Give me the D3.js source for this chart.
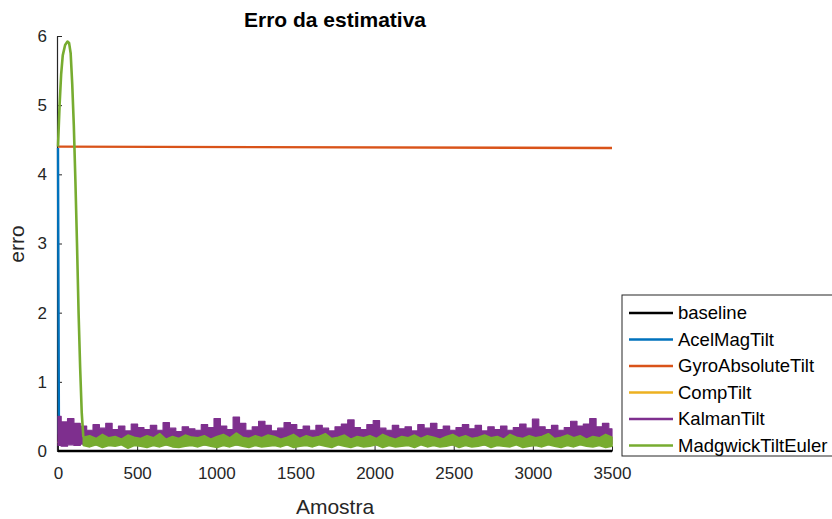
<!DOCTYPE html>
<html>
<head>
<meta charset="utf-8">
<script src="https://cdn.jsdelivr.net/npm/d3@7"></script>
<style>
  body { margin: 0; background: #fff; }
  svg { font-family: "Liberation Sans", Arial, sans-serif; }
</style>
</head>
<body>
<svg id="chart" width="832" height="519"></svg>
<script>
// series names + colours (matlab default order)
const seriesNames = ['baseline', 'AcelMagTilt', 'GyroAbsoluteTilt', 'CompTilt', 'KalmanTilt', 'MadgwickTiltEuler'];
const seriesColors = ['#000000', '#0072BD', '#D95319', '#EDB120', '#7E2F8E', '#77AC30'];

const xTicks = [0, 500, 1000, 1500, 2000, 2500, 3000, 3500];
const yTicks = [0, 1, 2, 3, 4, 5, 6];
const xMax = 3500;

// sample index / value pairs
const baselineX = [0, 3500];
const baselineY = [0, 0];

const acelMagX = [0, 6, 20, 3500];
const acelMagY = [4.38, 0.25, 0.12, 0.12];

const gyroX = [0, 3500];
const gyroY = [4.40, 4.38];

const compX = [0, 10, 3500];
const compY = [0.14, 0.12, 0.12];

// kalman is a dense noisy band: low / high edge, evenly spread over 0..3500
const kalmanHi = [
  0.50,0.42,0.47,0.40,0.36, 0.30,0.38,0.33,0.40,0.31,
  0.36,0.29,0.39,0.34,0.31, 0.37,0.30,0.41,0.33,0.28,
  0.35,0.32,0.30,0.38,0.34, 0.47,0.36,0.31,0.49,0.40,
  0.30,0.35,0.43,0.37,0.29, 0.33,0.41,0.38,0.31,0.36,
  0.30,0.37,0.33,0.29,0.35, 0.39,0.45,0.34,0.31,0.38,
  0.44,0.33,0.30,0.37,0.32, 0.35,0.29,0.38,0.33,0.40,
  0.31,0.36,0.30,0.34,0.38, 0.32,0.37,0.29,0.35,0.31,
  0.36,0.30,0.34,0.39,0.33, 0.46,0.35,0.31,0.37,0.30,
  0.34,0.43,0.36,0.39,0.47, 0.35,0.40,0.32
];
const kalmanLo = [
  0.08,0.07,0.09,0.08,0.10, 0.11,0.09,0.12,0.10,0.08,
  0.10,0.12,0.09,0.11,0.08, 0.10,0.12,0.09,0.11,0.10,
  0.08,0.11,0.10,0.09,0.12, 0.10,0.08,0.11,0.09,0.12,
  0.10,0.09,0.11,0.08,0.10, 0.12,0.09,0.10,0.11,0.08,
  0.10,0.12,0.09,0.11,0.10, 0.08,0.11,0.09,0.12,0.10,
  0.09,0.11,0.10,0.08,0.12, 0.10,0.09,0.11,0.10,0.08,
  0.12,0.10,0.09,0.11,0.08, 0.10,0.12,0.09,0.11,0.10,
  0.08,0.11,0.10,0.09,0.12, 0.10,0.08,0.11,0.09,0.10,
  0.12,0.09,0.11,0.10,0.08, 0.11,0.09,0.10
];

// madgwick: the early hump as a line, then a noisy band from sample 160
const madgwickPeakX = [0, 10, 20, 30, 45, 60, 70, 80, 90, 100, 110, 120, 130, 140, 150, 160];
const madgwickPeakY = [4.40, 5.00, 5.45, 5.72, 5.87, 5.92, 5.90, 5.75, 5.30, 4.70, 3.90, 3.00, 2.00, 1.20, 0.55, 0.20];
const madgwickBandStart = 160;
const madgwickHi = [
  0.20,0.22,0.18,0.24,0.19, 0.21,0.17,0.23,0.20,0.18,
  0.22,0.19,0.25,0.17,0.21, 0.18,0.23,0.20,0.19,0.22,
  0.17,0.21,0.24,0.19,0.26, 0.20,0.18,0.22,0.19,0.23,
  0.21,0.17,0.20,0.24,0.18, 0.22,0.19,0.21,0.25,0.18,
  0.20,0.23,0.17,0.21,0.19, 0.22,0.18,0.24,0.20,0.17,
  0.21,0.19,0.23,0.18,0.22, 0.20,0.17,0.21,0.24,0.19,
  0.22,0.18,0.20,0.23,0.19, 0.21,0.17,0.24,0.20,0.18,
  0.22,0.19,0.21,0.25,0.18, 0.20,0.23,0.19,0.22,0.17,
  0.21,0.19,0.24,0.20
];
const madgwickLo = [
  0.08,0.06,0.09,0.05,0.08, 0.07,0.09,0.04,0.08,0.07,
  0.05,0.08,0.06,0.09,0.06, 0.05,0.07,0.08,0.06,0.09,
  0.07,0.05,0.08,0.06,0.09, 0.07,0.05,0.08,0.06,0.07,
  0.08,0.06,0.09,0.05,0.07, 0.08,0.06,0.09,0.07,0.05,
  0.09,0.07,0.05,0.08,0.06, 0.07,0.09,0.05,0.08,0.06,
  0.07,0.08,0.05,0.09,0.06, 0.08,0.06,0.07,0.09,0.05,
  0.08,0.06,0.07,0.09,0.05, 0.08,0.07,0.06,0.09,0.05,
  0.07,0.08,0.06,0.09,0.07, 0.05,0.08,0.06,0.09,0.07,
  0.06,0.08,0.05,0.07
];

function zipPts(xs, ys) {
  return xs.map((v, i) => [v, ys[i]]);
}

function bandPts(start, lo, hi) {
  const n = hi.length;
  return hi.map((v, i) => ({x: start + i * (xMax - start) / (n - 1), lo: lo[i], hi: v}));
}

const lineSeries = [
  zipPts(baselineX, baselineY),
  zipPts(acelMagX, acelMagY),
  zipPts(gyroX, gyroY),
  zipPts(compX, compY)
];

const kalmanBand = bandPts(0, kalmanLo, kalmanHi);
const madgwickBand = bandPts(madgwickBandStart, madgwickLo, madgwickHi);
const madgwickPeak = zipPts(madgwickPeakX, madgwickPeakY);

const svg = d3.select('#chart');
const axisColor = '#262626';

const x = d3.scaleLinear().domain([0, xMax]).range([58, 612]);
const y = d3.scaleLinear().domain([0, 6]).range([451, 36]);

// title + labels
svg.append('text')
  .attr('x', 335).attr('y', 27)
  .attr('text-anchor', 'middle')
  .style('font-weight', 'bold').style('font-size', '21px')
  .attr('fill', '#000')
  .text('Erro da estimativa');

svg.append('text')
  .attr('x', 335).attr('y', 514)
  .attr('text-anchor', 'middle')
  .style('font-size', '21px').attr('fill', axisColor)
  .text('Amostra');

svg.append('text')
  .attr('transform', 'translate(24,244) rotate(-90)')
  .attr('text-anchor', 'middle')
  .style('font-size', '21px').attr('fill', axisColor)
  .text('erro');

// axes first (matlab style: ticks inside, box off), data goes over them
const xAxis = svg.append('g')
  .attr('transform', 'translate(0,451)')
  .call(d3.axisBottom(x).tickValues(xTicks).tickFormat(d3.format('d'))
    .tickSizeInner(-5).tickSizeOuter(0).tickPadding(16));
const yAxis = svg.append('g')
  .attr('transform', 'translate(57,0)')
  .call(d3.axisLeft(y).tickValues(yTicks).tickFormat(d3.format('d'))
    .tickSizeInner(-5).tickSizeOuter(0).tickPadding(10));

[xAxis, yAxis].forEach(g => {
  g.select('.domain').attr('stroke', axisColor).attr('stroke-width', 1.2);
  g.selectAll('.tick line').attr('stroke', axisColor);
  g.selectAll('.tick text')
    .attr('fill', axisColor)
    .style('font-size', '17px')
    .style('font-family', '"Liberation Sans", Arial, sans-serif');
});

// lines
const line = d3.line().x(d => x(d[0])).y(d => y(d[1]));

svg.append('g')
  .selectAll('path')
  .data(lineSeries)
  .enter()
  .append('path')
  .attr('d', line)
  .attr('fill', 'none')
  .attr('stroke', (d, i) => seriesColors[i])
  .attr('stroke-width', 2.4)
  .attr('stroke-linejoin', 'round');

// kalman band
const kalmanArea = d3.area()
  .x(d => x(d.x)).y0(d => y(d.lo)).y1(d => y(d.hi))
  .curve(d3.curveStep);
svg.append('path')
  .attr('d', kalmanArea(kalmanBand))
  .attr('fill', seriesColors[4])
  .attr('stroke', seriesColors[4])
  .attr('stroke-width', 1.2)
  .attr('stroke-linejoin', 'round');

// madgwick: hump line then band
svg.append('path')
  .attr('d', line(madgwickPeak))
  .attr('fill', 'none')
  .attr('stroke', seriesColors[5])
  .attr('stroke-width', 2.6)
  .attr('stroke-linejoin', 'round');

const madgwickArea = d3.area()
  .x(d => x(d.x)).y0(d => y(d.lo)).y1(d => y(d.hi));
svg.append('path')
  .attr('d', madgwickArea(madgwickBand))
  .attr('fill', seriesColors[5])
  .attr('stroke', seriesColors[5])
  .attr('stroke-width', 1.6)
  .attr('stroke-linejoin', 'round');

// legend
const legend = svg.append('g').attr('transform', 'translate(622,295)');
legend.append('rect')
  .attr('x', 0).attr('y', 0)
  .attr('width', 240).attr('height', 161)
  .attr('fill', '#fff')
  .attr('stroke', axisColor).attr('stroke-width', 1);

const rows = legend.selectAll('g.row')
  .data(seriesNames)
  .enter()
  .append('g')
  .attr('class', 'row')
  .attr('transform', (d, i) => `translate(0,${18 + i * 26.5})`);

rows.append('line')
  .attr('x1', 7).attr('x2', 51)
  .attr('stroke', (d, i) => seriesColors[i])
  .attr('stroke-width', 2.4);

rows.append('text')
  .attr('x', 56).attr('y', 6)
  .style('font-size', '18.5px')
  .attr('fill', '#000')
  .text(d => d);
</script>
</body>
</html>
